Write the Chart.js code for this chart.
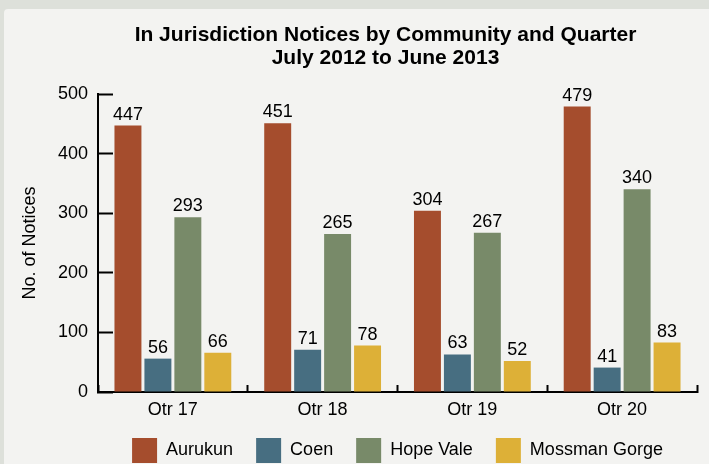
<!DOCTYPE html>
<html>
<head>
<meta charset="utf-8">
<script src="https://cdn.jsdelivr.net/npm/chart.js@4.4.0/dist/chart.umd.min.js"></script>
<style>
	body { margin: 0; width: 709px; height: 464px; overflow: hidden; background: #dde0da; position: relative; }
	#panel { position: absolute; left: 4px; top: 9px; right: 0; bottom: 0; background: #f3f3f1; border-top-left-radius: 4px; }
	#chart { position: absolute; left: 0; top: 0; }
</style>
</head>
<body>
<div id="panel"></div>
<canvas id="chart" width="709" height="473"></canvas>
<script>
const titleLines = ["In Jurisdiction Notices by Community and Quarter", "July 2012 to June 2013"];
const quarters = ["Qtr 17", "Qtr 18", "Qtr 19", "Qtr 20"];
const aurukun = [447, 451, 304, 479];
const coen = [56, 71, 63, 41];
const hopeVale = [293, 265, 267, 340];
const mossmanGorge = [66, 78, 52, 83];
const yTicks = [0, 100, 200, 300, 400, 500];

const FONT = "'Liberation Sans', Arial, sans-serif";

//two-line title, centred like the original
const titlePlugin = {
	id: "titleLines",
	afterDraw(chart) {
		let ctx = chart.ctx;
		ctx.save();
		ctx.fillStyle = "#000";
		ctx.font = "bold 21px " + FONT;
		ctx.textAlign = "center";
		ctx.textBaseline = "alphabetic";
		ctx.fillText(titleLines[0], 385.5, 40.5);
		ctx.fillText(titleLines[1], 385.5, 63.5);
		ctx.restore();
	},
};

//value labels above the bars
const valuePlugin = {
	id: "valueLabels",
	afterDatasetsDraw(chart) {
		let ctx = chart.ctx;
		ctx.save();
		ctx.fillStyle = "#000";
		ctx.font = "18px " + FONT;
		ctx.textAlign = "center";
		ctx.textBaseline = "alphabetic";
		chart.data.datasets.forEach((ds, i) => {
			chart.getDatasetMeta(i).data.forEach((bar, j) => {
				ctx.fillText(ds.data[j], bar.x, bar.y - 6);
			});
		});
		ctx.restore();
	},
};

let chart = new Chart(document.getElementById("chart"), {
	type: "bar",
	data: {
		labels: quarters,
		datasets: [
			{ label: "Aurukun", data: aurukun, backgroundColor: "#a54d2d" },
			{ label: "Coen", data: coen, backgroundColor: "#476e81" },
			{ label: "Hope Vale", data: hopeVale, backgroundColor: "#788a69" },
			{ label: "Mossman Gorge", data: mossmanGorge, backgroundColor: "#ddb037" },
		],
	},
	options: {
		responsive: false,
		animation: false,
		categoryPercentage: 0.8,
		barPercentage: 0.9,
		layout: { padding: { top: 94, right: 12, bottom: 0, left: 0 } },
		plugins: {
			title: { display: false },
			tooltip: { enabled: false },
			legend: {
				position: "bottom",
				fullSize: false,
				labels: {
					boxWidth: 25,
					boxHeight: 25,
					padding: 23,
					color: "#000",
					font: { family: FONT, size: 18 },
				},
			},
		},
		scales: {
			x: {
				grid: { drawOnChartArea: false, color: "#000", tickLength: -7, tickWidth: 2 },
				border: { color: "#000", width: 2 },
				ticks: { color: "#000", padding: 14.5, font: { family: FONT, size: 18 } },
				afterFit: (scale) => { scale.height = 23; },
			},
			y: {
				min: yTicks[0],
				max: yTicks[yTicks.length - 1],
				grid: { drawOnChartArea: false, color: "#000", tickLength: -15, tickWidth: 2 },
				border: { color: "#000", width: 2 },
				ticks: { stepSize: 100, color: "#000", padding: 25, font: { family: FONT, size: 18 } },
				title: {
					display: true,
					text: "No. of Notices",
					color: "#000",
					padding: { top: 19.2, bottom: 0 },
					font: { family: FONT, size: 18 },
				},
				afterFit: (scale) => { scale.width = 98; },
			},
		},
	},
	plugins: [titlePlugin, valuePlugin],
});
</script>
</body>
</html>
